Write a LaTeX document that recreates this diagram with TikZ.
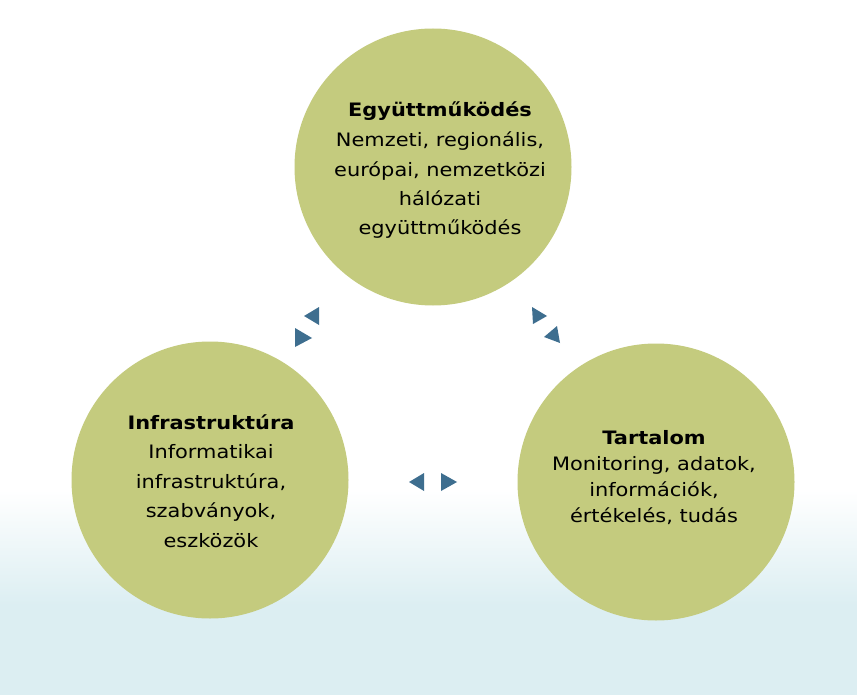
\documentclass[tikz,border=0pt]{standalone}
\usepackage{fontspec}
\setmainfont{DejaVu Sans}[FakeStretch=1.13]
\definecolor{bubblegreen}{HTML}{C4CB7E}
\definecolor{arrowblue}{HTML}{3E6E8F}
\definecolor{skyblue}{HTML}{DCEEF2}

\begin{document}
\begin{tikzpicture}[x=1pt, y=-1pt,
		bubble/.style={circle, fill=bubblegreen, minimum size=277pt, inner sep=0pt},
		bubbletext/.style={align=center, anchor=base, inner sep=0pt, font=\fontsize{18.5}{29.5}\selectfont}]
		\useasboundingbox (0,0) rectangle (857,695);

		\fill [white] (0,0) rectangle (857,695);
		\shade [top color=white, bottom color=skyblue] (0,490) rectangle (857,605);
		\fill [skyblue] (0,604) rectangle (857,695);

		\node [bubble] (coop) at (433,167) {};
		\node [bubble] (infra) at (210,480) {};
		\node [bubble] (content) at (656,482) {};

		\node [bubbletext] (coop-text) at (440,235) {\textbf{Együttműködés}\\Nemzeti, regionális,\\európai, nemzetközi\\hálózati\\együttműködés};
		\node [bubbletext] (infra-text) at (211,547) {\textbf{Infrastruktúra}\\Informatikai\\infrastruktúra,\\szabványok,\\eszközök};
		\node [bubbletext, font=\fontsize{18.5}{25.8}\selectfont] (content-text) at (654,522) {\textbf{Tartalom}\\Monitoring, adatok,\\információk,\\értékelés, tudás};

		\fill [arrowblue] (304,316) -- (319,307) -- (319,325) -- cycle;
		\fill [arrowblue] (295,328) -- (312,338) -- (295,347) -- cycle;
		\fill [arrowblue] (532,307) -- (547,316) -- (533,324) -- cycle;
		\fill [arrowblue] (544,337) -- (557,326) -- (560,343) -- cycle;
		\fill [arrowblue] (409,482) -- (424,473) -- (424,491) -- cycle;
		\fill [arrowblue] (441,473) -- (457,482) -- (441,491) -- cycle;
	\end{tikzpicture}
\end{document}
